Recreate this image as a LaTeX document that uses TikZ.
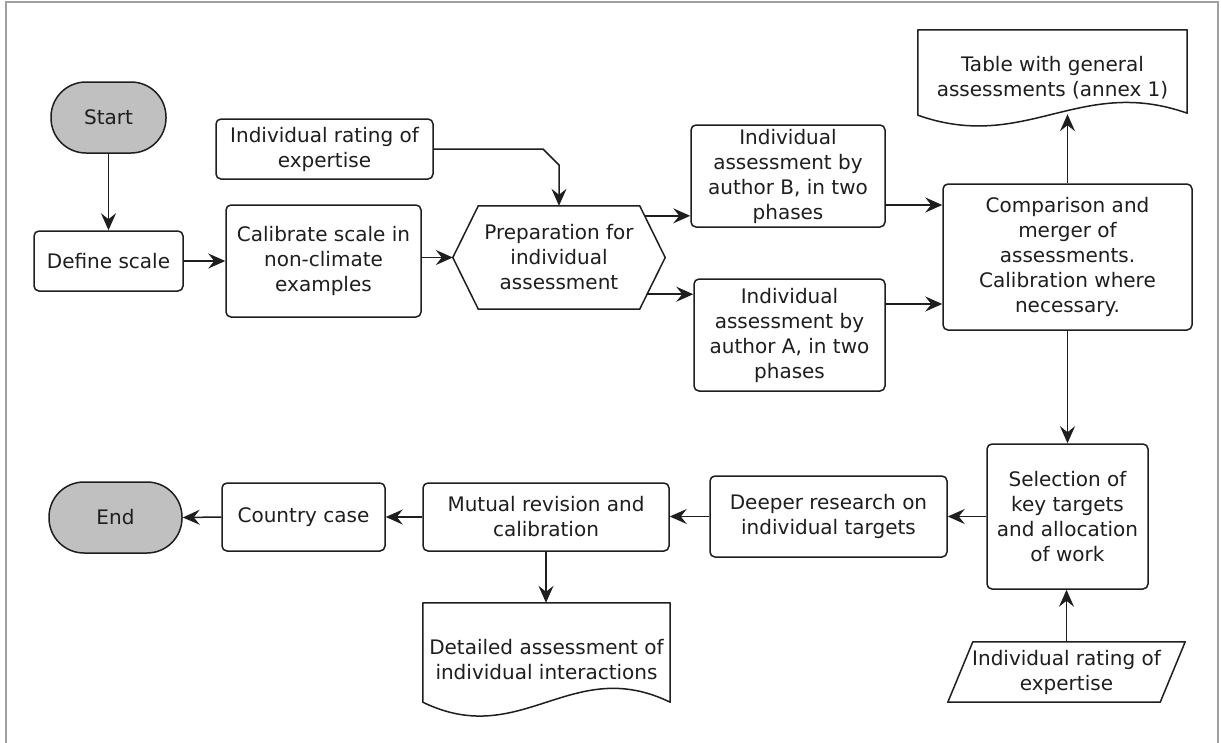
\documentclass[tikz,border=0pt]{standalone}
\usepackage{fontspec}
\setmainfont{DejaVu Sans}
\usetikzlibrary{arrows.meta,calc}
\definecolor{linecol}{RGB}{30,30,30}
\definecolor{termfill}{RGB}{192,192,192}
\definecolor{framecol}{RGB}{160,160,160}
\newcommand\nodefont{\fontsize{20}{25}\selectfont}
\begin{document}
\begin{tikzpicture}[x=1pt,y=-1pt,
  box/.style={draw=linecol, line width=1.5pt, rounded corners=5pt, align=center, inner sep=2pt, font=\nodefont, text=linecol},
  term/.style={box, fill=termfill, rounded corners=35pt},
  plain/.style={align=center, inner sep=0pt, font=\nodefont, text=linecol},
  outline/.style={draw=linecol, line width=1.5pt, line join=round},
  arr/.style={draw=linecol, line width=1.5pt, -{Stealth[length=17pt,width=15pt,inset=6pt]}}]
\useasboundingbox (0,0) rectangle (1221,742);
\fill[white] (0,0) rectangle (1221,742);
\draw[framecol, line width=1.5pt] (6,760) -- (6,2) -- (1218,2) -- (1218,760);

% top flow
\node[term, minimum width=115pt, minimum height=71pt] (start) at (108.5,117.5) {Start};
\node[box, minimum width=149pt, minimum height=60pt] (define) at (108.5,261) {Define scale};
\node[box, minimum width=195pt, minimum height=112pt] (cal) at (323.5,261) {Calibrate scale in\\non-climate\\examples};
\node[box, minimum width=217pt, minimum height=60pt] (rating) at (324.5,149) {Individual rating of\\expertise};
\node[plain, minimum width=212pt, minimum height=103pt] (hex) at (559,257.5) {Preparation for\\individual\\assessment};
\coordinate (hexTR) at ($(hex.north east)+(-25.5,0)$);
\coordinate (hexBR) at ($(hex.south east)+(-25.5,0)$);
\draw[outline] (hex.west) -- ($(hex.north west)+(25.5,0)$) -- (hexTR) -- (hex.east) -- (hexBR) -- ($(hex.south west)+(25.5,0)$) -- cycle;
\node[box, minimum width=194pt, minimum height=102pt] (B) at (788,176) {Individual\\assessment by\\author B, in two\\phases};
\node[box, minimum width=191pt, minimum height=112pt] (A) at (789.5,335) {Individual\\assessment by\\author A, in two\\phases};
\node[box, minimum width=249pt, minimum height=146pt] (comp) at (1067.5,257) {Comparison and\\merger of\\assessments.\\Calibration where\\necessary.};
\node[plain, minimum width=269pt, minimum height=95pt] (table) at (1052.5,77.5) {Table with general\\assessments (annex 1)};
\draw[outline] (table.north west) -- (table.north east) -- ($(table.south east)+(0,-12)$)
  .. controls ($(table.south east)+(-107.6,-50)$) and ($(table.south west)+(107.6,28)$) .. ($(table.south west)+(0,-10)$) -- cycle;

% bottom flow
\node[box, minimum width=161pt, minimum height=145pt] (sel) at (1067.5,516.5) {Selection of\\key targets\\and allocation\\of work};
\node[box, minimum width=237pt, minimum height=81pt] (deeper) at (828.5,516.5) {Deeper research on\\individual targets};
\node[box, minimum width=246pt, minimum height=68pt] (mutual) at (546,517) {Mutual revision and\\calibration};
\node[box, minimum width=163pt, minimum height=68pt] (country) at (303.5,517) {Country case};
\node[term, minimum width=133pt, minimum height=71pt] (end) at (115.5,517.5) {End};
\node[plain, minimum width=247pt, minimum height=114pt] (detailed) at (546.5,660) {Detailed assessment of\\individual interactions};
\draw[outline] (detailed.north west) -- (detailed.north east) -- ($(detailed.south east)+(0,-15)$)
  .. controls ($(detailed.south east)+(-98.8,-63)$) and ($(detailed.south west)+(98.8,33)$) .. ($(detailed.south west)+(0,-15)$) -- cycle;
\node[plain, minimum width=237pt, minimum height=60pt] (par) at (1066.5,672) {Individual rating of\\expertise};
\draw[outline] ($(par.north west)+(25,0)$) -- (par.north east) -- ($(par.south east)+(-25,0)$) -- (par.south west) -- cycle;

% connectors
\draw[arr] (start.south) -- (define.north);
\draw[arr] (define.east) -- (cal.west);
\draw[arr] (cal.east |- hex.west) -- (hex.west);
\coordinate (rh) at (rating.east -| hex.north);
\draw[arr] (rating.east) -- ($(rh)+(-16,0)$) -- ($(rh)+(0,16)$) -- (hex.north);
\coordinate (hB) at ($(hexTR)!0.194!(hex.east)$);
\coordinate (hA) at ($(hexBR)!0.29!(hex.east)$);
\draw[arr] (hB) -- (hB -| B.west);
\draw[arr] (hA) -- (hA -| A.west);
\coordinate (bc) at ($(B.east)+(0,29)$);
\coordinate (ac) at ($(A.east)+(0,-31)$);
\draw[arr] (bc) -- (bc -| comp.west);
\draw[arr] (ac) -- (ac -| comp.west);
\draw[arr] (comp.north) -- ($(comp.north |- table.south)+(0,-11)$);
\draw[arr] (comp.south) -- (sel.north);
\draw[arr] (par.north) -- (par.north |- sel.south);
\draw[arr] (sel.west) -- (deeper.east);
\draw[arr] (deeper.west) -- (deeper.west -| mutual.east);
\draw[arr] (mutual.west) -- (country.east);
\draw[arr] (country.west) -- (end.east);
\draw[arr] (mutual.south) -- (mutual.south |- detailed.north);
\end{tikzpicture}
\end{document}
